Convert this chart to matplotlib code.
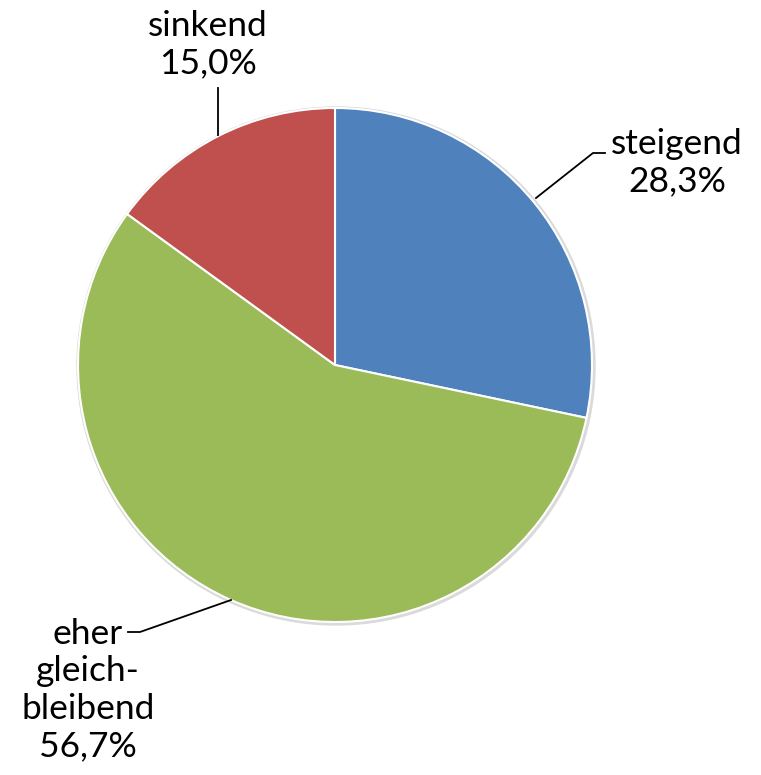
import matplotlib
matplotlib.use("Agg")
import matplotlib.pyplot as plt
from matplotlib.patches import Circle

labels = ["steigend", "eher\ngleich-\nbleibend", "sinkend"]
values = [28.3, 56.7, 15.0]
colors = ["#4F81BD", "#9BBB59", "#C0504D"]

W, H = 761, 775
fig = plt.figure(figsize=(W / 100, H / 100), dpi=100)
ax = fig.add_axes([0, 0, 1, 1])

cx, cy, r = 335, H - 365, 257

# soft shadow ring behind the pie
ax.add_patch(Circle((cx + 1, cy - 1), r + 2, color="#dadada", zorder=0))

ax.pie(values, colors=colors, startangle=90, counterclock=False,
       center=(cx, cy), radius=r, frame=True,
       wedgeprops=dict(edgecolor="white", linewidth=1.5))
ax.set_xlim(0, W)
ax.set_ylim(0, H)
ax.set_aspect("equal")
ax.axis("off")

font = dict(family="Lato", fontsize=25.5, color="black", ha="center",
            va="center", linespacing=1.2)

def label(i, x, y):
    ax.text(x, H - y, "%s\n%s%%" % (labels[i], ("%.1f" % values[i]).replace(".", ",")), **font)

label(0, 677, 163)
label(1, 88, 690)
label(2, 208, 45)

# leader lines
ax.plot([536, 593, 605], [H - 198, H - 153, H - 153], color="black", lw=1.3)
ax.plot([218, 218], [H - 88, H - 135], color="black", lw=1.3)
ax.plot([231, 140, 128], [H - 600, H - 632, H - 632], color="black", lw=1.3)

fig.savefig("out.png", dpi=100, facecolor="white")
